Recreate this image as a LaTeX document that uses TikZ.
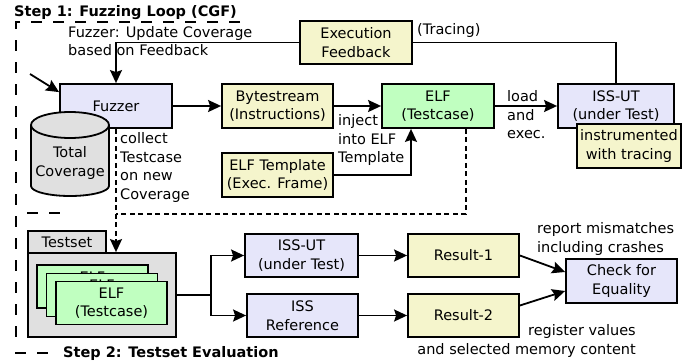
\documentclass[tikz,border=0pt]{standalone}
\usepackage{fontspec}
\setmainfont{DejaVu Sans}
\usetikzlibrary{arrows.meta,calc}

\definecolor{boxyellow}{RGB}{245,245,204}
\definecolor{boxlav}{RGB}{230,230,250}
\definecolor{boxgreen}{RGB}{192,255,192}
\definecolor{boxgrey}{RGB}{224,224,224}

\newcommand{\txtsize}{\fontsize{14.5pt}{18.5pt}\selectfont}

\tikzset{
  every node/.style={font=\txtsize},
  box/.style={draw, line width=1.8pt, inner sep=0pt, align=center},
  ybox/.style={box, fill=boxyellow, minimum width=111pt, minimum height=43pt},
  lbox/.style={box, fill=boxlav, minimum width=111pt, minimum height=43pt},
  gbox/.style={box, fill=boxgreen, minimum width=111pt, minimum height=43pt},
  conn/.style={line width=1.8pt},
  arr/.style={conn, -{Stealth[length=13pt, width=12pt, inset=2pt]}},
  dsh/.style={line width=1.8pt, dash pattern=on 5pt off 3.5pt},
  frame/.style={line width=2pt, dash pattern=on 11pt off 11pt},
  txt/.style={inner sep=0pt, align=left, anchor=west},
  title/.style={inner sep=0pt, anchor=west, font=\txtsize\bfseries},
}

\begin{document}
\begin{tikzpicture}[x=1pt, y=-1pt]
\useasboundingbox (0,0) rectangle (694,364);

% --- Step 1 frame (dashed) ---
\draw[frame] (240,22) -- (16,22) -- (16,338);
\draw[frame] (27,213) -- (64,213);
\draw[frame] (15,353) -- (52,353);
\node[title] (t1) at (14,13) {Step 1: Fuzzing Loop (CGF)};
\node[title] (t2) at (63,353) {Step 2: Testset Evaluation};

% --- fuzzing loop ---
\node[ybox, minimum width=112pt] (exec) at (356,42.5) {Execution\\Feedback};
\node[lbox, minimum width=112pt, minimum height=44pt] (fuzz) at (116,106) {Fuzzer};
\node[ybox, minimum height=44pt] (byte) at (277.5,106) {Bytestream\\(Instructions)};
\node[gbox, minimum width=112pt, minimum height=44pt] (elf) at (438,106) {ELF\\(Testcase)};
\node[ybox, minimum height=44pt] (tmpl) at (277.5,175) {ELF Template\\(Exec. Frame)};
\node[lbox, minimum width=116pt, minimum height=44pt] (isst) at (616,106) {ISS-UT\\(under Test)};
\node[ybox, minimum width=104pt, minimum height=44pt] (instr) at (629,146) {instrumented\\with tracing};

% total coverage database
\fill[boxgrey] (31,125) -- (31,186) arc[start angle=180, end angle=360, x radius=39pt, y radius=10pt]
  -- (109,125) arc[start angle=0, end angle=180, x radius=39pt, y radius=13pt] -- cycle;
\draw[line width=1.8pt, line join=round] (31,125) -- (31,186)
  arc[start angle=180, end angle=360, x radius=39pt, y radius=10pt]
  -- (109,125) arc[start angle=0, end angle=180, x radius=39pt, y radius=13pt] -- cycle;
\draw[line width=1.8pt] (31,125) arc[start angle=180, end angle=360, x radius=39pt, y radius=13pt];
\node[inner sep=0pt, align=center] (cov) at (70,163) {Total\\Coverage};

% loop connectors
\coordinate (start) at (30,74);
\draw[arr] (start) -- ([yshift=-9pt]fuzz.north west);
\draw[arr] (exec.west) -| (fuzz.north);
\draw[conn] (exec.east) -| (isst.north);
\draw[arr] (fuzz.east) -- (byte.west);
\draw[arr] (byte.east) -- (elf.west);
\draw[arr] (tmpl.east) -| ([xshift=-27pt]elf.south);
\draw[arr] (elf.east) -- (isst.west);

% connector labels
\node[txt] (lfb) at (68,41) {Fuzzer: Update Coverage\\based on Feedback};
\node[txt] (ltr) at (417,30) {(Tracing)};
\node[txt] (lld) at (507,115) {load\\and\\exec.};
\node[txt] (linj) at (338,140) {inject\\into ELF\\Template};
\node[txt] (lcol) at (120,167.5) {collect\\Testcase\\on new\\Coverage};

% --- testset: stacked testcases, back ones only show their top line ---
\node[box, fill=boxgrey, minimum width=78pt, minimum height=22pt] (tstab) at (67,242) {Testset};
\node[box, fill=boxgrey, minimum width=148pt, minimum height=84pt] (tsbody) at (102,295) {};
\node[gbox, minimum height=43pt] (e1) at (92.5,286.5) {};
\node[inner sep=0pt] (e1t) at (92.5,277.2) {ELF};
\node[gbox, minimum height=43pt] (e2) at (102,295) {};
\node[inner sep=0pt] (e2t) at (102,285.7) {ELF};
\node[gbox, minimum height=43pt] (e3) at (111.5,303) {ELF\\(Testcase)};

% collect path (dashed)
\draw[dsh] ([xshift=28pt]elf.south) |- (fuzz.south |- 0,214);
\draw[dsh, -{Stealth[length=13pt, width=12pt, inset=2pt]}] (fuzz.south) -- (fuzz.south |- tsbody.north);

% --- evaluation ---
\node[lbox, minimum width=113pt] (issu2) at (301.5,255.5) {ISS-UT\\(under Test)};
\node[lbox] (issref) at (302.5,315.5) {ISS\\Reference};
\node[ybox] (res1) at (463.5,255.5) {Result-1};
\node[ybox] (res2) at (463.5,315.5) {Result-2};
\node[lbox, minimum height=44pt] (check) at (621.5,281) {Check for\\Equality};

\coordinate (split) at (211,295);
\draw[conn] (tsbody.east) -- (split);
\draw[arr] (split) |- (issu2.west);
\draw[arr] (split) |- (issref.west);
\draw[arr] (issu2.east) -- (res1.west);
\draw[arr] (issref.east) -- (res2.west);
\draw[arr] (res1.east) -- ([yshift=9pt]check.west);
\draw[arr] ([yshift=10pt]res2.east) -- ([yshift=-10pt]check.west);

\node[txt] (lrep) at (537,239) {report mismatches\\including crashes};
\node[inner sep=0pt, align=right, anchor=east] (lreg) at (636,341) {register values\\and selected memory content};

\end{tikzpicture}
\end{document}
